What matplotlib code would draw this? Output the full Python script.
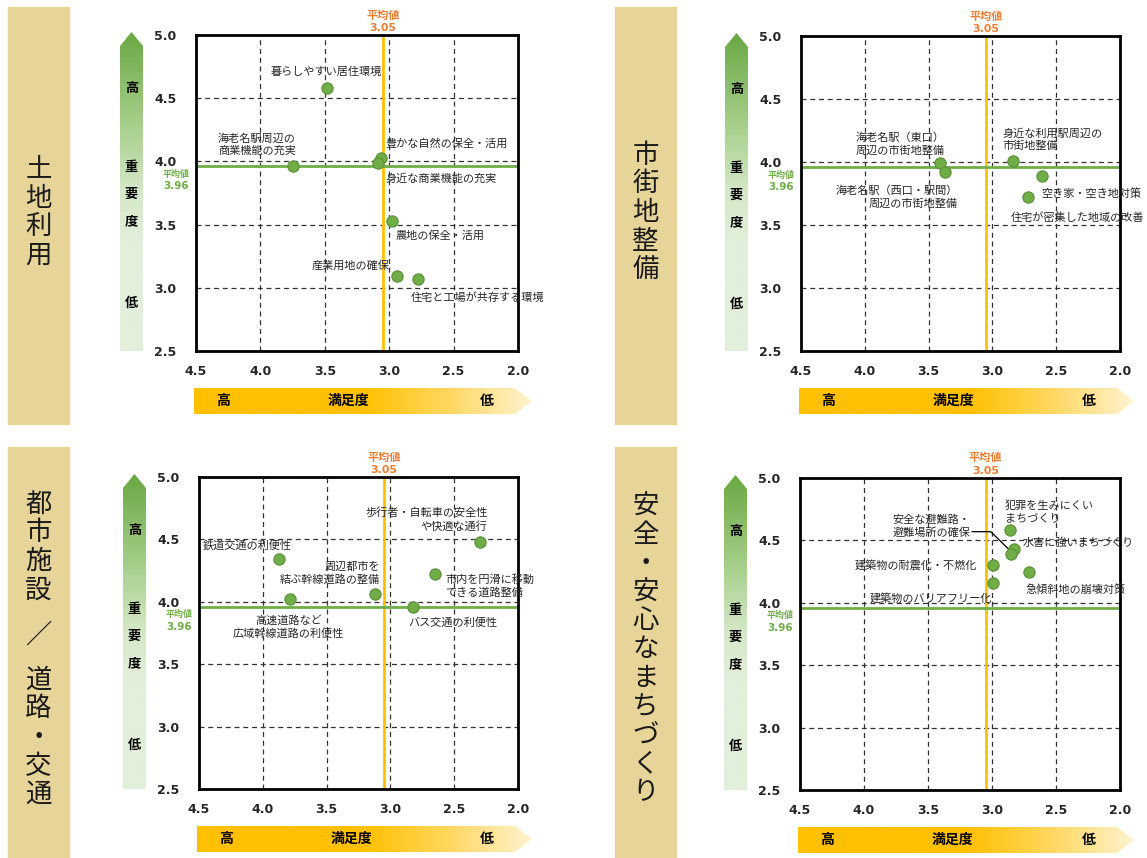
import numpy as np
import matplotlib
matplotlib.use("Agg")
import matplotlib.pyplot as plt
from matplotlib.patches import Polygon, Rectangle
from matplotlib.colors import LinearSegmentedColormap

plt.rcParams['font.family'] = ['Noto Sans CJK JP', 'DejaVu Sans']

W, H = 1147, 858

# 平均値
SAT_MEAN = 3.05   # 満足度
IMP_MEAN = 3.96   # 重要度

# 土地利用
land_names = ["暮らしやすい居住環境", "海老名駅周辺の\n商業機能の充実", "豊かな自然の保全・活用",
              "身近な商業機能の充実", "農地の保全・活用", "産業用地の確保", "住宅と工場が共存する環境"]
land_sat = [3.48, 3.75, 3.06, 3.09, 2.98, 2.94, 2.78]
land_imp = [4.58, 3.96, 4.03, 3.99, 3.53, 3.09, 3.07]

# 市街地整備
town_names = ["海老名駅（東口）\n周辺の市街地整備", "海老名駅（西口・駅間）\n周辺の市街地整備",
              "身近な利用駅周辺の\n市街地整備", "空き家・空き地対策", "住宅が密集した地域の改善"]
town_sat = [3.41, 3.37, 2.84, 2.61, 2.72]
town_imp = [3.99, 3.92, 4.01, 3.89, 3.72]

# 都市施設／道路・交通
road_names = ["鉄道交通の利便性", "高速道路など\n広域幹線道路の利便性", "周辺都市を\n結ぶ幹線道路の整備",
              "バス交通の利便性", "市内を円滑に移動\nできる道路整備", "歩行者・自転車の安全性\nや快適な通行"]
road_sat = [3.87, 3.79, 3.12, 2.82, 2.65, 2.30]
road_imp = [4.34, 4.02, 4.06, 3.96, 4.22, 4.48]

# 安全・安心なまちづくり
safe_names = ["犯罪を生みにくい\nまちづくり", "水害に強いまちづくり", "安全な避難路・\n避難場所の確保",
              "建築物の耐震化・不燃化", "急傾斜地の崩壊対策", "建築物のバリアフリー化"]
safe_sat = [2.86, 2.83, 2.85, 2.99, 2.71, 2.99]
safe_imp = [4.58, 4.43, 4.39, 4.30, 4.25, 4.16]

x_ticks = [4.5, 4.0, 3.5, 3.0, 2.5, 2.0]
y_ticks = [2.5, 3.0, 3.5, 4.0, 4.5, 5.0]

# label anchors (data coords) and alignment
land_lab = [(3.49, 4.71, 'center'), (4.33, 4.13, 'left'), (3.03, 4.14, 'left'), (3.03, 3.86, 'left'),
            (2.95, 3.41, 'left'), (3.00, 3.175, 'right'), (2.83, 2.925, 'left')]
town_lab = [(4.07, 4.14, 'left'), (3.27, 3.72, 'right'), (2.92, 4.18, 'left'),
            (2.62, 3.75, 'left'), (2.86, 3.555, 'left')]
road_lab = [(4.47, 4.45, 'left'), (3.80, 3.80, 'center'), (3.08, 4.23, 'right'),
            (2.86, 3.83, 'left'), (2.57, 4.125, 'left'), (2.24, 4.655, 'right')]
safe_lab = [(2.90, 4.73, 'left'), (2.76, 4.485, 'left'), (3.78, 4.615, 'left'),
            (3.115, 4.29, 'right'), (2.74, 4.106, 'left'), (3.00, 4.04, 'right')]

panels = [
    dict(title="土地利用", names=land_names, sat=land_sat, imp=land_imp, lab=land_lab,
         box=(8, 7, 69, 424), rect=(196, 35, 518, 351)),
    dict(title="市街地整備", names=town_names, sat=town_sat, imp=town_imp, lab=town_lab,
         box=(615, 7, 676, 424), rect=(801, 36, 1120, 351)),
    dict(title="都市施設／道路・交通", names=road_names, sat=road_sat, imp=road_imp, lab=road_lab,
         box=(8, 447, 69, 858), rect=(199, 477, 518, 789)),
    dict(title="安全・安心なまちづくり", names=safe_names, sat=safe_sat, imp=safe_imp, lab=safe_lab,
         box=(615, 447, 676, 858), rect=(800, 478, 1120, 790)),
]

fig = plt.figure(figsize=(W / 100, H / 100), dpi=100)
bg = fig.add_axes([0, 0, 1, 1], zorder=0)
bg.set_xlim(0, W)
bg.set_ylim(H, 0)
bg.axis('off')


def grad_arrow(verts, colors, stops, vertical):
    poly = Polygon(verts, closed=True, facecolor='none', edgecolor='none')
    bg.add_patch(poly)
    xs = [v[0] for v in verts]
    ys = [v[1] for v in verts]
    cmap = LinearSegmentedColormap.from_list('g', list(zip(stops, colors)))
    g = np.linspace(0, 1, 256)
    grad = g.reshape(-1, 1) if vertical else g.reshape(1, -1)
    im = bg.imshow(grad, cmap=cmap, extent=(min(xs), max(xs), max(ys), min(ys)),
                   aspect='auto', origin='upper', zorder=1)
    im.set_clip_path(poly)


for p in panels:
    L, T, R, B = p['rect']

    # category box
    x0, y0, x1, y1 = p['box']
    bg.add_patch(Rectangle((x0, y0), x1 - x0, y1 - y0, color='#E6D498', zorder=1))
    chars = list(p['title'])
    steps = [45 if ('／' in (a, b)) else 28.6 for a, b in zip(chars[:-1], chars[1:])]
    ys = np.concatenate([[0], np.cumsum(steps)])
    ys = ys - ys[-1] / 2 + (y0 + y1) / 2 - 3
    for c, yc in zip(chars, ys):
        bg.text((x0 + x1) / 2, yc, c, fontsize=19, ha='center', va='center', color='#1a1a1a')

    # 重要度 arrow
    ax0, ax1 = L - 76, L - 53
    grad_arrow([(ax0, T + 11), ((ax0 + ax1) / 2, T - 3), (ax1, T + 11), (ax1, B), (ax0, B)],
               ['#6AA843', '#A9D18E', '#D5E8C8', '#E2EFDA', '#E2EFDA'],
               [0.0, 0.3, 0.5, 0.65, 1.0], True)
    xc = (ax0 + ax1) / 2
    for txt, dy in [("高", 53), ("重", 132), ("要", 159), ("度", 186), ("低", 268)]:
        bg.text(xc, T + dy, txt, fontsize=9.5, fontweight='bold', ha='center', va='center', zorder=3)

    # 満足度 arrow
    top, bot = B + 37, B + 63
    grad_arrow([(L - 2, top), (R - 3, top), (R + 14, (top + bot) / 2), (R - 3, bot), (L - 2, bot)],
               ['#FFC000', '#FFC000', '#FFD75E', '#FFF3CF'], [0.0, 0.5, 0.75, 1.0], False)
    for txt, xx in [("高", L + 27), ("満足度", L + 152), ("低", R - 31)]:
        bg.text(xx, (top + bot) / 2, txt, fontsize=10, fontweight='bold', ha='center', va='center', zorder=3)

    # scatter panel
    ax = fig.add_axes([L / W, 1 - B / H, (R - L) / W, (B - T) / H], zorder=2)
    ax.set_xlim(4.5, 2.0)
    ax.set_ylim(2.5, 5.0)
    ax.set_xticks(x_ticks)
    ax.set_yticks(y_ticks)
    ax.set_xticklabels([f"{v:.1f}" for v in x_ticks], fontweight='bold', family='DejaVu Sans', color='#262626')
    ax.set_yticklabels([f"{v:.1f}" for v in y_ticks], fontweight='bold', family='DejaVu Sans', color='#262626')
    ax.tick_params(length=0, labelsize=9)
    ax.tick_params(axis='y', pad=14)
    ax.tick_params(axis='x', pad=10)
    ax.grid(True, linestyle=(0, (4, 3)), color='#333333', lw=0.9)
    for s in ax.spines.values():
        s.set_linewidth(2)
        s.set_color('black')
    ax.set_axisbelow(True)

    ax.axvline(SAT_MEAN, color='#FFC000', lw=2, zorder=2)
    ax.axhline(IMP_MEAN, color='#70AD47', lw=2, zorder=2)
    ax.annotate("平均値", xy=(SAT_MEAN, 1), xycoords=('data', 'axes fraction'), xytext=(0, 20),
                textcoords='offset pixels', ha='center', va='center', fontsize=8,
                fontweight='bold', color='#ED7D31', annotation_clip=False)
    ax.annotate(f"{SAT_MEAN:.2f}", xy=(SAT_MEAN, 1), xycoords=('data', 'axes fraction'), xytext=(0, 7),
                textcoords='offset pixels', ha='center', va='center', fontsize=7.8,
                fontweight='bold', color='#ED7D31', family='DejaVu Sans', annotation_clip=False)
    ax.annotate("平均値", xy=(0, IMP_MEAN), xycoords=('axes fraction', 'data'), xytext=(-20, -8),
                textcoords='offset pixels', ha='center', va='center', fontsize=6.5,
                fontweight='bold', color='#70AD47', annotation_clip=False)
    ax.annotate(f"{IMP_MEAN:.2f}", xy=(0, IMP_MEAN), xycoords=('axes fraction', 'data'), xytext=(-20, -20),
                textcoords='offset pixels', ha='center', va='center', fontsize=7.5,
                fontweight='bold', color='#70AD47', family='DejaVu Sans', annotation_clip=False)

    ax.scatter(p['sat'], p['imp'], s=66, facecolor='#70AD47', edgecolor='#5A9038', lw=0.8, zorder=4)
    for name, (lx, ly, ha) in zip(p['names'], p['lab']):
        ax.text(lx, ly, name, fontsize=8, ha=ha, va='center', multialignment=ha,
                linespacing=1.25, color='#262626', zorder=5)

    if p['title'].startswith("安全"):
        i = safe_names.index("安全な避難路・\n避難場所の確保")
        ax.plot([3.155, 3.01, safe_sat[i]], [4.57, 4.57, safe_imp[i] + 0.02], color='black', lw=0.9, zorder=3)

fig.savefig("out.png", dpi=100)
